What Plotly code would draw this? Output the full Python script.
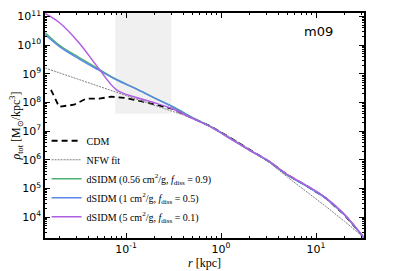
import plotly.graph_objects as go

# ---- data (log10 values) ----
log_r = [-1.85, -1.7, -1.5, -1.3, -1.1, -0.9, -0.7, -0.5, -0.3, -0.1,
         0.1, 0.3, 0.5, 0.7, 0.9, 1.1, 1.3, 1.5]

rho_purple = [11.10, 10.78, 10.10, 9.24, 8.44, 8.18, 7.99, 7.76, 7.44, 7.13,
              6.73, 6.34, 5.96, 5.48, 5.10, 4.68, 4.09, 3.30]
rho_blue = [10.36, 9.95, 9.53, 9.15, 8.79, 8.48, 8.15, 7.83, 7.46, 7.14,
            6.74, 6.33, 5.95, 5.46, 5.08, 4.66, 4.07, 3.29]
rho_green = [10.43, 9.99, 9.58, 9.19, 8.80, 8.49, 8.16, 7.84, 7.47, 7.14,
             6.74, 6.33, 5.95, 5.46, 5.09, 4.67, 4.08, 3.29]

log_r_cdm = [-1.79, -1.705, -1.547, -1.42, -1.284, -1.158, -1.02, -0.81, -0.516,
             -0.3, -0.1, 0.1, 0.3, 0.5, 0.7, 0.9, 1.1, 1.3, 1.5]
rho_cdm = [8.44, 7.85, 7.92, 8.13, 8.13, 8.20, 8.16, 8.02, 7.78,
           7.46, 7.15, 6.76, 6.35, 5.95, 5.47, 5.09, 4.67, 4.08, 3.30]

log_r_nfw = [-1.85, -1.5, -1.1, -0.7, -0.5, -0.3, -0.1, 0.1, 0.3, 0.5, 0.7,
             0.9, 1.1, 1.3, 1.5]
rho_nfw = [9.20, 8.81, 8.36, 7.92, 7.70, 7.45, 7.15, 6.78, 6.37, 5.93, 5.39,
           4.90, 4.38, 3.85, 3.30]

shade_r = [0.077, 0.30]
shade_rho_min = 4e7

x_range_log = [-1.853, 1.505]
y_range_log = [3.27, 11.12]

y_tick_exp = [4, 5, 6, 7, 8, 9, 10, 11]
x_tick_exp = [-1, 0, 1]

names = {
    "cdm": "CDM",
    "nfw": "NFW fit",
    "green": "dSIDM (0.56 cm<sup>2</sup>/g, <i>f</i><sub>diss</sub> = 0.9)",
    "blue": "dSIDM (1 cm<sup>2</sup>/g, <i>f</i><sub>diss</sub> = 0.5)",
    "purple": "dSIDM (5 cm<sup>2</sup>/g, <i>f</i><sub>diss</sub> = 0.1)",
}


def p10(v):
    return [10 ** a for a in v]


fig = go.Figure()

fig.add_trace(go.Scatter(x=p10(log_r_cdm), y=p10(rho_cdm), mode="lines",
                         line=dict(color="black", width=1.8, dash="6px,4px"),
                         name=names["cdm"]))
fig.add_trace(go.Scatter(x=p10(log_r_nfw), y=p10(rho_nfw), mode="lines",
                         line=dict(color="#808080", width=1, dash="2px,1px"),
                         name=names["nfw"]))
fig.add_trace(go.Scatter(x=p10(log_r), y=p10(rho_green), mode="lines",
                         line=dict(color="#4caf74", width=1.5, shape="spline"),
                         name=names["green"]))
fig.add_trace(go.Scatter(x=p10(log_r), y=p10(rho_blue), mode="lines",
                         line=dict(color="#5a86e8", width=1.5, shape="spline"),
                         name=names["blue"]))
fig.add_trace(go.Scatter(x=p10(log_r), y=p10(rho_purple), mode="lines",
                         line=dict(color="#b05ee0", width=1.5, shape="spline"),
                         name=names["purple"]))

fig.add_shape(type="rect", xref="x", yref="y",
              x0=shade_r[0], x1=shade_r[1],
              y0=shade_rho_min, y1=10 ** y_range_log[1],
              fillcolor="#f0f0f0", line=dict(width=0), layer="below")

fig.add_annotation(text="m09", xref="paper", yref="paper", x=0.856, y=0.918,
                   xanchor="center", yanchor="middle",
                   showarrow=False, font=dict(family="DejaVu Sans", size=13, color="black"))


def minor_vals(exps_lo, exps_hi):
    out = []
    for e in range(exps_lo, exps_hi + 1):
        for m in range(2, 10):
            out.append(m * 10 ** e)
    return out


axis_common = dict(
    type="log", showgrid=False, zeroline=False, showline=True,
    linecolor="black", linewidth=1.5, mirror="allticks",
    ticks="inside", ticklen=5, tickwidth=1, tickcolor="black",
    tickfont=dict(family="DejaVu Sans", size=11, color="black"),
    automargin=False,
)

fig.update_xaxes(
    **axis_common,
    range=x_range_log,
    tickmode="array",
    tickvals=[10 ** e for e in x_tick_exp],
    ticktext=["10<sup>%d</sup>" % e for e in x_tick_exp],
    minor=dict(tickmode="array", tickvals=minor_vals(-2, 1), ticks="inside",
               ticklen=2.5, tickwidth=1, tickcolor="black"),
    title=dict(text="<i>r</i> [kpc]", font=dict(family="Liberation Serif", size=12, color="black"),
               standoff=2),
)
fig.update_yaxes(
    **axis_common,
    range=y_range_log,
    tickmode="array",
    tickvals=[10 ** e for e in y_tick_exp],
    ticktext=["10<sup>%d</sup>" % e for e in y_tick_exp],
    minor=dict(tickmode="array", tickvals=minor_vals(3, 11), ticks="inside",
               ticklen=2.5, tickwidth=1, tickcolor="black"),
    title=dict(text="<i>ρ</i><sub>tot</sub> [M<sub>⊙</sub>/kpc<sup>3</sup>]",
               font=dict(family="Liberation Serif", size=12, color="black"),
               standoff=2),
)

# page body has an 8px margin, so the figure is shrunk and offset to match
fig.update_layout(
    width=399, height=263,
    margin=dict(l=37, r=43, t=5, b=33),
    plot_bgcolor="white", paper_bgcolor="white",
    showlegend=True,
    legend=dict(x=0.005, y=0.03, xanchor="left", yanchor="bottom",
                bgcolor="rgba(0,0,0,0)", borderwidth=0,
                font=dict(family="Liberation Serif", size=10, color="black"),
                itemwidth=30, tracegroupgap=0),
)

fig.write_html("out.html")
